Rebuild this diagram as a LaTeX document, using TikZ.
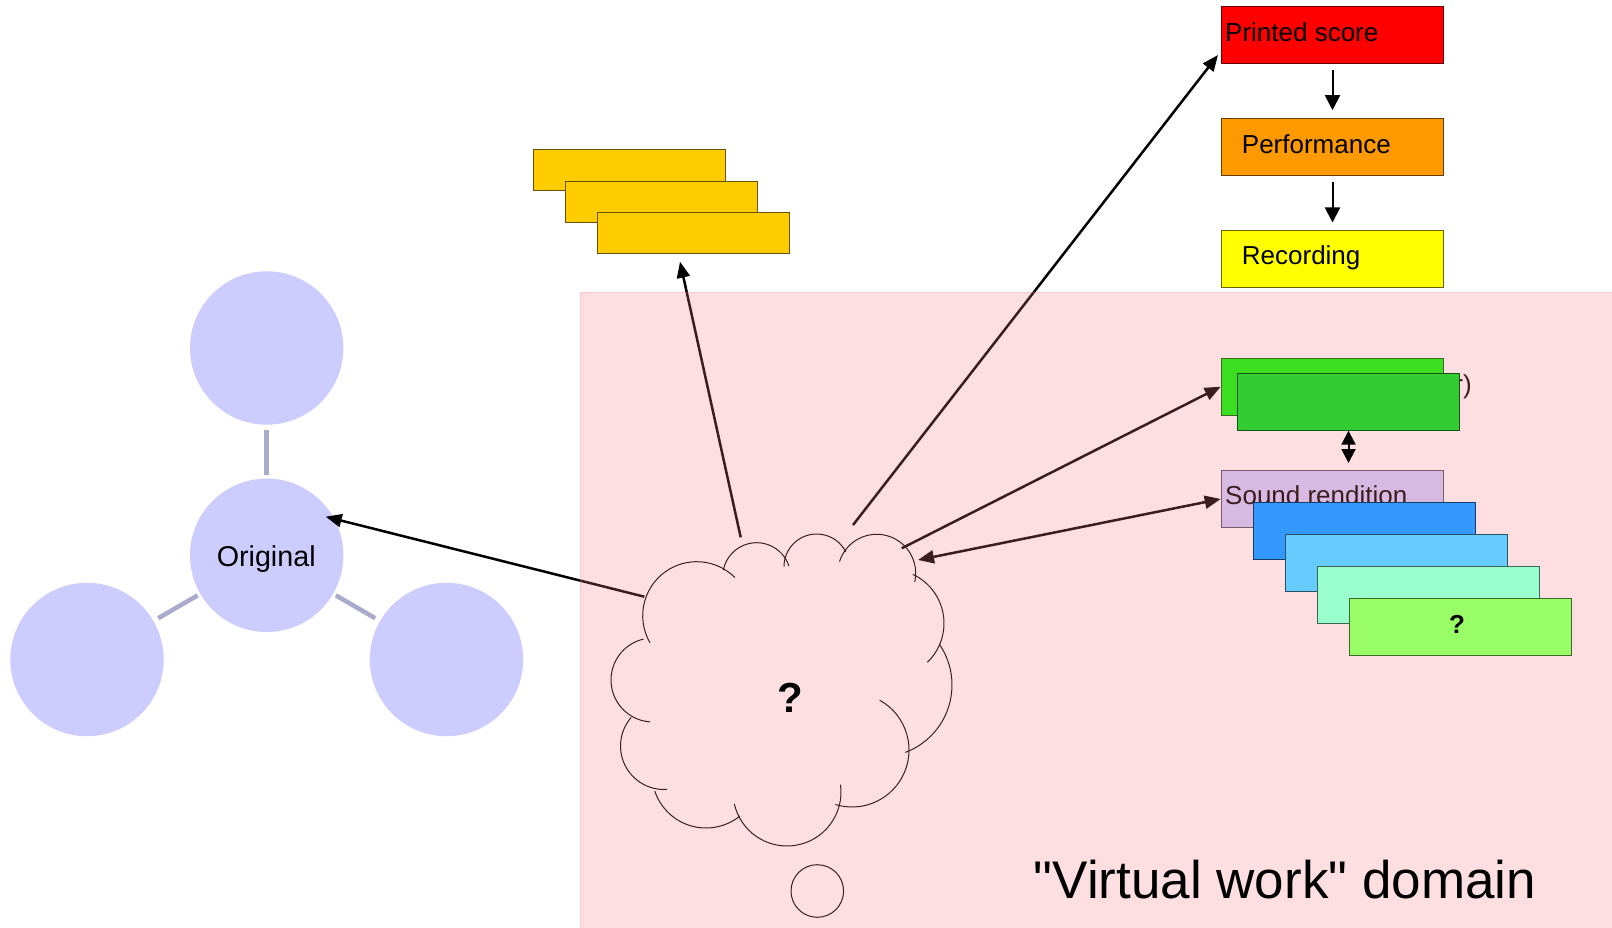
\documentclass[tikz,border=0pt]{standalone}
\usepackage{fontspec}
\setmainfont{Liberation Sans}
\newfontfamily\plainsans{Liberation Sans}[Ligatures=TeXOff]
\usetikzlibrary{arrows.meta}

\definecolor{bubblefill}{HTML}{CCCCFF}
\definecolor{spokecol}{HTML}{AAAACC}
\definecolor{domainpink}{RGB}{250,125,135}
\definecolor{scorered}{HTML}{FF0000}
\definecolor{perforange}{HTML}{FF9900}
\definecolor{recyellow}{HTML}{FFFF00}
\definecolor{gold}{HTML}{FFCC00}
\definecolor{brightgreen}{HTML}{00FF00}
\definecolor{midgreen}{HTML}{33CC33}
\definecolor{lavender}{HTML}{CCCCFF}
\definecolor{azure}{HTML}{3399FF}
\definecolor{sky}{HTML}{66CCFF}
\definecolor{mint}{HTML}{99FFCC}
\definecolor{lime}{HTML}{99FF66}

\tikzset{
  bubble/.style={circle, fill=bubblefill, inner sep=0pt, minimum size=153.4pt},
  spoke/.style={draw=spokecol, line width=4.5pt},
  card/.style={rectangle, inner sep=0pt, anchor=north west, line width=1pt,
    minimum width=222.6pt, minimum height=57pt, fill=#1, draw=#1!40!black},
  slip/.style={rectangle, inner sep=0pt, anchor=north west, line width=1pt,
    minimum width=192.3pt, minimum height=41pt, fill=gold, draw=gold!40!black},
  cardtext/.style={anchor=base west, inner sep=0pt, font=\fontsize{26}{30}\selectfont},
  link/.style={line width=2.5pt, -{Triangle[length=16pt,width=13pt]}},
  biglink/.style={line width=2.5pt, {Triangle[length=16pt,width=13pt]}-{Triangle[length=16pt,width=13pt]}},
  flow/.style={line width=2pt, -{Triangle[length=15pt,width=15pt]}},
  biflow/.style={line width=2pt, {Triangle[length=14pt,width=14pt]}-{Triangle[length=14pt,width=14pt]}},
  puff/.style={line width=1pt, black},
}

\begin{document}
\begin{tikzpicture}[x=1pt, y=1pt, yscale=-1]
\useasboundingbox (0,0) rectangle (1612,928);
\fill[white] (0,0) rectangle (1612,928);

% ---- the original and its three satellites
\node[bubble] (top)   at (266.7,348)   {};
\node[bubble] (orig)  at (266.7,555.3) {};
\node[bubble] (left)  at (87,659.5)    {};
\node[bubble] (right) at (446.5,659.5) {};
\node[anchor=base, inner sep=0pt, font=\fontsize{28.7}{32}\selectfont] (origtext) at (266.2,566) {Original};
\draw[spoke, shorten <=5.3pt, shorten >=3pt] (top) -- (orig);
\draw[spoke, shorten <=3pt, shorten >=5.5pt] (orig) -- (left);
\draw[spoke, shorten <=3pt, shorten >=5.5pt] (orig) -- (right);

% ---- stacked slips above the cloud
\node[slip] (y1) at (532.7,149)   {};
\node[slip] (y2) at (564.7,180.7) {};
\node[slip] (y3) at (596.7,212.3) {};

% ---- score / performance / recording chain
\node[card=scorered]   (ps) at (1220.7,6)     {};
\node[card=perforange] (pf) at (1220.7,117.7) {};
\node[card=recyellow]  (rc) at (1220.7,230)   {};
\node[cardtext] (pstext) at (1225,41.7)    {Printed score};
\node[cardtext] (pftext) at (1241.7,153.3) {Performance};
\node[cardtext] (rctext) at (1241.7,265)   {Recording};
\draw[flow, shorten <=6pt, shorten >=7.5pt] (ps.south) -- (pf.north);
\draw[flow, shorten <=6pt, shorten >=7.5pt] (pf.south) -- (rc.north);

% ---- thought cloud (overlapping puffs)
\draw[puff] (696.7,615.7) ++(150:54)   arc[start angle=150,   end angle=315,   radius=54];
\draw[puff] (756.7,576.7) ++(191:34)   arc[start angle=191,   end angle=341.6, radius=34];
\draw[puff] (816.7,566.7) ++(180:32.7) arc[start angle=180,   end angle=333,   radius=32.7];
\draw[puff] (876.7,573.3) ++(197.5:39) arc[start angle=197.5, end angle=372.9, radius=39];
\draw[puff] (890,623.3)   ++(295:54)   arc[start angle=295,   end angle=406.2, radius=54];
\draw[puff] (880,685)     ++(325.2:72) arc[start angle=325.2, end angle=429.4, radius=72];
\draw[puff] (852,750)     ++(299:57)   arc[start angle=299,   end angle=467,   radius=57];
\draw[puff] (787,792)     ++(-7.8:54)  arc[start angle=-7.8,  end angle=167.3, radius=54];
\draw[puff] (706,774)     ++(51:54)    arc[start angle=51,    end angle=161.5, radius=54];
\draw[puff] (664,746)     ++(86:43.5)  arc[start angle=86,    end angle=221,   radius=43.5];
\draw[puff] (653,680)     ++(94:42)    arc[start angle=94,    end angle=257,   radius=42];
\node[circle, draw, line width=1pt, minimum size=52.6pt, inner sep=0pt] (dot) at (817.3,891) {};

% ---- cards lying under the domain tint
\node[card=brightgreen] (gb) at (1220.7,357.7) {};
\node[anchor=base east, inner sep=0pt, font=\fontsize{26}{30}\selectfont] (gbtext) at (1472,393.5) {r)};
\node[card=lavender] (sr) at (1220.7,470) {};
\node[cardtext] (srtext) at (1225,504) {Sound rendition};

% ---- connectors leaving the cloud
\coordinate (cO) at (644.3,596.7);
\coordinate (cY) at (740.7,537.3);
\coordinate (cP) at (853,525);
\coordinate (cG) at (901.7,548.3);
\coordinate (cS) at (918,560);
\coordinate (tO) at (325.7,516.7);
\coordinate (tY) at (680,261.7);
\coordinate (tP) at (1218,55);
\draw[link] (cO) -- (tO);
\draw[link] (cY) -- (tY);
\draw[link] (cP) -- (tP);
\draw[link] (cG) -- (gb.west);
\draw[biglink] (cS) -- (sr.west);

% ---- tinted "virtual work" domain
\fill[domainpink, fill opacity=0.24] (580.7,292.7) rectangle (1612,928);
\draw[domainpink, draw opacity=0.4, line width=1pt] (580.7,928) -- (580.7,292.7) -- (1612,292.7);

% ---- items on top of the domain
\node[anchor=base, inner sep=0pt, font=\bfseries\fontsize{42}{46}\selectfont] (cloudq) at (790,712.7) {?};
\node[card=midgreen] (gf) at (1236.7,372.7) {};
\draw[biflow, shorten >=7pt] (gf.south) -- (gf.south |- sr.north);
\node[card=azure] (b1) at (1252.7,502.3) {};
\node[card=sky]   (b2) at (1284.7,534)   {};
\node[card=mint]  (b3) at (1316.7,566)   {};
\node[card=lime]  (b4) at (1348.7,598)   {};
\node[anchor=base, inner sep=0pt, font=\bfseries\fontsize{26}{30}\selectfont] (limeq) at (1457,633.3) {?};

\node[anchor=base, inner sep=0pt, font=\plainsans\fontsize{53}{60}\selectfont] (domain) at (1285,898) {"Virtual work" domain};
\end{tikzpicture}
\end{document}
